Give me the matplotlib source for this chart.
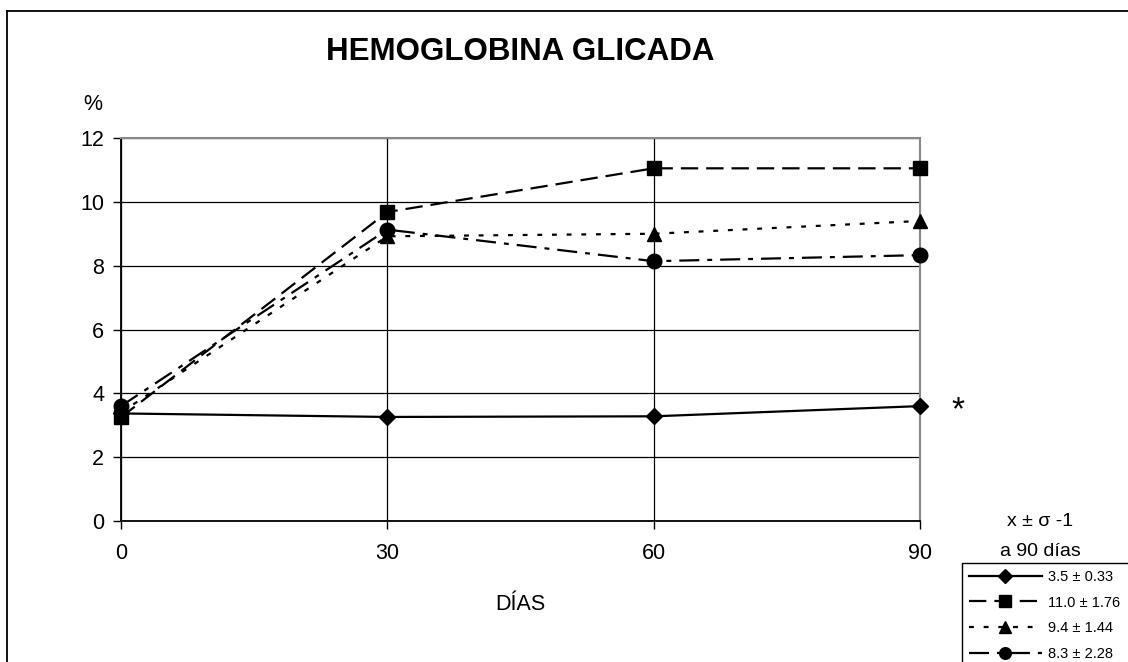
import matplotlib.pyplot as plt
from matplotlib.lines import Line2D
from matplotlib.patches import Rectangle

plt.rcParams['font.family'] = ['Liberation Sans', 'DejaVu Sans']

dias = [0, 30, 60, 90]
serie_rombo = [3.37, 3.26, 3.28, 3.60]
serie_cuadrado = [3.25, 9.68, 11.05, 11.05]
serie_triangulo = [3.40, 8.92, 9.00, 9.40]
serie_circulo = [3.60, 9.13, 8.14, 8.33]
etiquetas = ["3.5 ± 0.33", "11.0 ± 1.76", "9.4 ± 1.44", "8.3 ± 2.28"]

fig = plt.figure(figsize=(11.28, 6.62), dpi=100)
ax = fig.add_axes([121 / 1128, 1 - 521 / 662, 799 / 1128, 383 / 662])

# figure border (only left and top visible in the original)
fig.add_artist(Line2D([7 / 1128, 7 / 1128], [1 - 11 / 662, -0.1], transform=fig.transFigure,
                      color="black", lw=1.3))
fig.add_artist(Line2D([7 / 1128, 1.1], [1 - 11 / 662, 1 - 11 / 662], transform=fig.transFigure,
                      color="black", lw=1.3))

lw = 1.6
ms = 10
l1, = ax.plot(dias, serie_rombo, color="black", lw=lw, marker="D", ms=8.5, clip_on=False, zorder=5)
l2, = ax.plot(dias, serie_cuadrado, color="black", lw=lw, marker="s", ms=ms,
              linestyle=(0, (7.8, 3.6)), clip_on=False, zorder=5)
l3, = ax.plot(dias, serie_triangulo, color="black", lw=lw, marker="^", ms=ms + 0.5,
              linestyle=(0, (2.2, 4.4)), clip_on=False, zorder=5)
l4, = ax.plot(dias, serie_circulo, color="black", lw=lw, marker="o", ms=ms + 0.5,
              linestyle=(0, (9.0, 3.6, 2.2, 3.6)), clip_on=False, zorder=5)

ax.set_xlim(0, 90)
ax.set_ylim(0, 12)
ax.set_xticks(dias)
ax.set_yticks(range(0, 13, 2))
ax.tick_params(labelsize=15.5, direction="out", length=6, width=1, pad=6, colors="black")
ax.tick_params(axis="x", pad=10)

ax.grid(True, color="black", lw=0.9)
ax.set_axisbelow(True)
for s in ["top", "right"]:
    ax.spines[s].set_color("#888888")
    ax.spines[s].set_linewidth(1.5)
for s in ["left", "bottom"]:
    ax.spines[s].set_color("black")
    ax.spines[s].set_linewidth(1.3)

fig.text(520 / 1128, 1 - 52 / 662, "HEMOGLOBINA GLICADA", ha="center", va="center",
         fontsize=22.5, fontweight="bold")
fig.text(93 / 1128, 1 - 104 / 662, "%", ha="center", va="center", fontsize=15.5)
fig.text(520 / 1128, 1 - 604 / 662, "DÍAS", ha="center", va="center", fontsize=15.5)
fig.text(958 / 1128, 1 - 411 / 662, "*", ha="center", va="center", fontsize=24)
fig.text(1040 / 1128, 1 - 521 / 662, "x ± σ -1", ha="center", va="center", fontsize=14)
fig.text(1040 / 1128, 1 - 551 / 662, "a 90 días", ha="center", va="center", fontsize=14)

# legend box runs off the right and bottom edges in the original
fig.add_artist(Rectangle((962 / 1128, -0.1), 0.3, 1 - 563 / 662 + 0.1, transform=fig.transFigure,
                         facecolor="white", edgecolor="black", lw=1.0, zorder=1))
leg = fig.legend([l1, l2, l3, l4], etiquetas, loc="upper left",
                 bbox_to_anchor=(966 / 1128, 1 - 567 / 662), fontsize=10.5,
                 frameon=False, handlelength=5.0, handletextpad=0.45, labelspacing=0.8,
                 borderaxespad=0, borderpad=0.2, markerscale=0.8)
leg.set_zorder(2)

fig.savefig("out.png", dpi=100)
